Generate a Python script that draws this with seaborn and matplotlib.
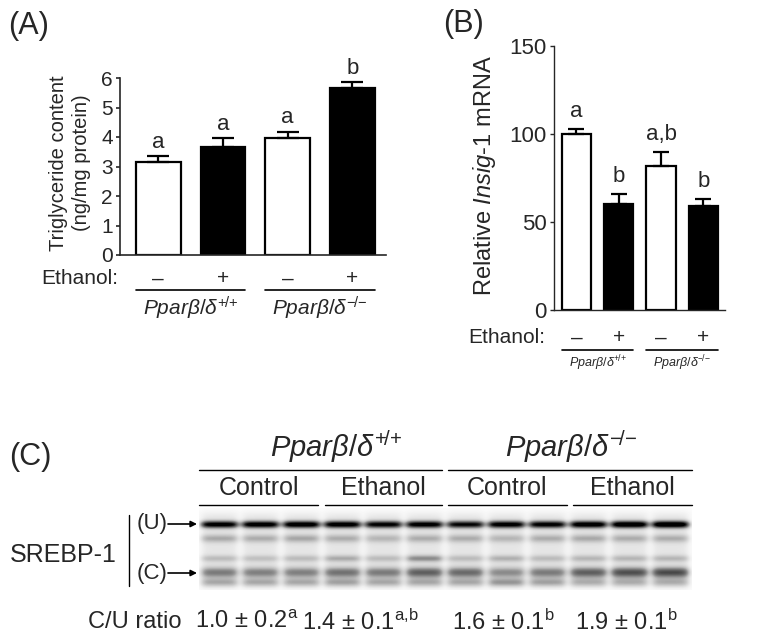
import numpy as np
import matplotlib
matplotlib.use('Agg')
import matplotlib.pyplot as plt
import seaborn as sns

sns.set_style('ticks')
plt.rcParams['font.family'] = ['Liberation Sans', 'DejaVu Sans']
plt.rcParams['mathtext.fontset'] = 'custom'
plt.rcParams['mathtext.rm'] = 'Liberation Sans'
plt.rcParams['mathtext.it'] = 'Liberation Sans:italic'
plt.rcParams['mathtext.bf'] = 'Liberation Sans:bold'

# data
conditions = ['WT ctrl', 'WT EtOH', 'KO ctrl', 'KO EtOH']
ethanol = ['–', '+', '–', '+']
bar_colors = ['white', 'black', 'white', 'black']
genotypes = [r'$Ppar\beta/\delta^{+\!/\!+}$', r'$Ppar\beta/\delta^{-\!/\!-}$']

tg_mean = [3.15, 3.65, 3.95, 5.65]
tg_sem = [0.20, 0.30, 0.22, 0.20]
tg_letters = ['a', 'a', 'a', 'b']

insig_mean = [100, 60, 82, 59]
insig_sem = [3, 6, 8, 4]
insig_letters = ['a', 'b', 'a,b', 'b']

cu_mean = [1.0, 1.4, 1.6, 1.9]
cu_sem = [0.2, 0.1, 0.1, 0.1]
cu_letters = ['a', 'a,\\!b', 'b', 'b']
blot_groups = ['Control', 'Ethanol', 'Control', 'Ethanol']

# band intensities per lane (12 lanes), top to bottom
band_u = [0.88, 0.90, 0.92, 0.90, 0.85, 0.88, 0.82, 0.88, 0.86, 0.92, 0.96, 0.98]
band_m1 = [0.26, 0.25, 0.27, 0.25, 0.22, 0.25, 0.25, 0.22, 0.25, 0.26, 0.25, 0.25]
band_m2 = [0.20, 0.18, 0.20, 0.26, 0.20, 0.36, 0.20, 0.24, 0.20, 0.22, 0.22, 0.22]
band_c = [0.42, 0.40, 0.40, 0.45, 0.42, 0.52, 0.48, 0.36, 0.42, 0.52, 0.58, 0.60]
band_c2 = [0.26, 0.26, 0.26, 0.28, 0.26, 0.26, 0.26, 0.32, 0.28, 0.24, 0.24, 0.24]
band_rows = [16, 30, 50, 64, 74]
band_sigma = [2.6, 3.0, 2.5, 3.8, 3.0]

fig = plt.figure(figsize=(7.62, 6.43), dpi=100)
W, H = 762, 643


def px_axes(x0, y0, x1, y1):
    return fig.add_axes([x0 / W, (H - y1) / H, (x1 - x0) / W, (y1 - y0) / H])


def bar_panel(ax, means, sems, letters, capsize, ylim, yticks, tick_fs,
              letter_off, letter_fs, spine_lw):
    sns.barplot(x=conditions, y=means, hue=conditions, palette=bar_colors,
                edgecolor='black', linewidth=1.6, errorbar=None, legend=False,
                width=0.69, saturation=1, ax=ax)
    ax.errorbar(range(4), means, yerr=[np.zeros(4), sems], fmt='none',
                ecolor='black', elinewidth=1.6, capsize=capsize, capthick=1.6)
    for i in range(4):
        ax.text(i, means[i] + sems[i] + letter_off, letters[i], ha='center',
                va='bottom', fontsize=letter_fs)
    ax.set_ylim(*ylim)
    ax.set_yticks(yticks)
    ax.set_xticks([])
    ax.tick_params(axis='y', labelsize=tick_fs, width=spine_lw, length=3.2,
                   pad=2)
    for s in ['left', 'bottom']:
        ax.spines[s].set_linewidth(spine_lw)
    sns.despine(ax=ax)
    ax.set_facecolor('none')


def ethanol_row(ax, y_row, y_line, y_gen, fs, gen_fs, x_label):
    tr = ax.get_xaxis_transform()
    ax.text(x_label, y_row, 'Ethanol:', ha='right', va='center',
            fontsize=fs, transform=ax.transAxes)
    for i in range(4):
        ax.text(i, y_row, ethanol[i], ha='center', va='center', fontsize=fs,
                transform=tr)
    for g in range(2):
        x0, x1 = 2 * g - 0.345, 2 * g + 1.345
        ax.plot([x0, x1], [y_line, y_line], color='black', lw=1.2,
                transform=tr, clip_on=False)
        ax.text(2 * g + 0.5, y_gen, genotypes[g], ha='center', va='center',
                fontsize=gen_fs, transform=tr)


# Panel A
ax_a = px_axes(120, 78, 386, 255)
bar_panel(ax_a, tg_mean, tg_sem, tg_letters, 8, (0, 6), range(7), 15,
          0.12, 16, 1.2)
ax_a.set_xlim(-0.59, 3.52)
ethanol_row(ax_a, -0.135, -0.198, -0.30, 15, 15, -0.005)

# Panel B
ax_b = px_axes(554, 46, 725, 310)
bar_panel(ax_b, insig_mean, insig_sem, insig_letters, 6, (0, 150),
          [0, 50, 100, 150], 16, 4, 16, 1.0)
ax_b.set_xlim(-0.53, 3.51)
ethanol_row(ax_b, -0.106, -0.152, -0.20, 15, 9, -0.05)

# Panel C blot
gh, gw = 82, 493
yy = np.arange(gh)[:, None]
xx = np.arange(gw)[None, :]
img = np.full((gh, gw), 0.02)
smear = 1 / (1 + np.exp(-(yy - 4) / 2.0)) * 1 / (1 + np.exp((yy - 80) / 2.0))
for lane in range(12):
    c = 20.0 + 41 * lane
    prof = 1 / (1 + np.exp(-(18 - np.abs(xx - c)) / 2.2))
    img = img + 0.16 * prof * smear
    for rows, sig, vals in zip(band_rows, band_sigma,
                               [band_u, band_m1, band_m2, band_c, band_c2]):
        img = img + vals[lane] * prof * np.exp(-0.5 * ((yy - rows) / sig) ** 2)
ax_g = px_axes(199, 508, 692, 590)
ax_g.imshow(np.clip(img, 0, 1), cmap='Greys', vmin=0, vmax=1, aspect='auto',
            interpolation='bilinear')
ax_g.axis('off')

# overlay for panel labels and blot annotations (pixel coordinates)
ov = fig.add_axes([0, 0, 1, 1])
ov.set_xlim(0, W)
ov.set_ylim(H, 0)
ov.axis('off')
ov.patch.set_alpha(0)

ov.text(8, 26, '(A)', fontsize=22, va='center', ha='left')
ov.text(443, 24, '(B)', fontsize=22, va='center', ha='left')
ov.text(9, 457, '(C)', fontsize=22, va='center', ha='left')

ov.text(70, 163, 'Triglyceride content\n(ng/mg protein)', rotation=90,
        ha='center', va='center', fontsize=14.5, linespacing=1.25)
ov.text(485, 176, 'Relative $\\mathit{Insig}$-$\\mathit{1}$ mRNA', rotation=90,
        ha='center', va='center', fontsize=17)

ov.text(336, 447, genotypes[0], ha='center', va='center', fontsize=21)
ov.text(571, 447, genotypes[1], ha='center', va='center', fontsize=21)
for x0, x1 in [(199, 442), (448, 692)]:
    ov.plot([x0, x1], [470, 470], color='black', lw=1.0)
group_x = [(199, 318), (325, 442), (448, 567), (573, 692)]
for (x0, x1), name in zip(group_x, blot_groups):
    ov.text((x0 + x1) / 2, 488, name, ha='center', va='center', fontsize=18)
    ov.plot([x0, x1], [505, 505], color='black', lw=1.0)

ov.plot([129, 129], [515, 586], color='black', lw=1.0)
ov.text(10, 555, 'SREBP-1', ha='left', va='center', fontsize=18)
for lab, yb in [('(U)', 524), ('(C)', 573)]:
    ov.text(137, yb, lab, ha='left', va='center', fontsize=16)
    ov.annotate('', xy=(197, yb), xytext=(168, yb),
                arrowprops=dict(arrowstyle='-|>', color='black', lw=1.2,
                                mutation_scale=9, shrinkA=0, shrinkB=0))

ov.text(88, 622, 'C/U ratio', ha='left', va='center', fontsize=17)
cu_x = [195, 302, 452, 575]
for i in range(4):
    ov.text(cu_x[i], 622,
            f'{cu_mean[i]:.1f} ± {cu_sem[i]:.1f}' + '$^{\\mathrm{' + cu_letters[i] + '}}$',
            ha='left', va='center', fontsize=17)

fig.savefig('out.png', dpi=100)
